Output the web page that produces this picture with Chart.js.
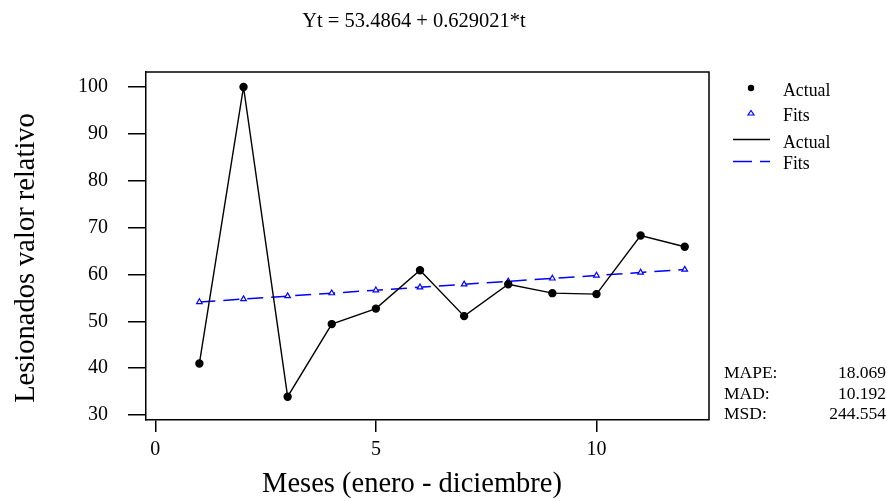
<!DOCTYPE html>
<html>
<head>
<meta charset="utf-8">
<script src="https://cdn.jsdelivr.net/npm/chart.js@4.4.1/dist/chart.umd.min.js"></script>
<style>
  html, body { margin: 0; padding: 0; background: #ffffff; }
  #wrap { width: 887px; height: 501px; position: relative; }
</style>
</head>
<body>
<div id="wrap"><canvas id="c" width="887" height="501"></canvas></div>
<script>
// ---- data ----
const months = [1, 2, 3, 4, 5, 6, 7, 8, 9, 10, 11, 12];
const actualValues = [41.0, 100.0, 33.9, 49.4, 52.7, 60.9, 51.1, 57.9, 56.0, 55.8, 68.3, 65.9];
const fitsValues = [54.12, 54.74, 55.37, 56.00, 56.63, 57.26, 57.89, 58.52, 59.15, 59.78, 60.41, 61.03];
const xTickValues = [0, 5, 10];
const yTickValues = [30, 40, 50, 60, 70, 80, 90, 100];
const equationText = 'Yt = 53.4864 + 0.629021*t';
const legendLabels = ['Actual', 'Fits', 'Actual', 'Fits'];
const statNames = ['MAPE:', 'MAD:', 'MSD:'];
const statValues = ['18.069', '10.192', '244.554'];
const xTitle = 'Meses (enero - diciembre)';
const yTitle = 'Lesionados valor relativo';

const SERIF = '"Liberation Serif", "Times New Roman", serif';
const BLUE = '#0000ff';

const extrasPlugin = {
  id: 'extras',
  afterDraw(chart) {
    const ctx = chart.ctx;
    const a = chart.chartArea;
    ctx.save();
    // frame top & right
    ctx.strokeStyle = '#000';
    ctx.lineWidth = 1.5;
    ctx.setLineDash([]);
    ctx.beginPath();
    ctx.moveTo(a.left, a.top);
    ctx.lineTo(a.right, a.top);
    ctx.lineTo(a.right, a.bottom);
    ctx.stroke();

    ctx.fillStyle = '#000';
    // equation
    ctx.font = '20.5px ' + SERIF;
    ctx.textAlign = 'center';
    ctx.textBaseline = 'middle';
    ctx.fillText(equationText, 414, 22);

    // axis titles
    ctx.font = '28.5px ' + SERIF;
    ctx.fillText(xTitle, 412, 485);
    ctx.save();
    ctx.translate(27, 258);
    ctx.rotate(-Math.PI / 2);
    ctx.fillText(yTitle, 0, 0);
    ctx.restore();

    // legend
    ctx.font = '17.8px ' + SERIF;
    ctx.textAlign = 'left';
    ctx.textBaseline = 'middle';
    const lx = 783;
    const ly = [91, 116, 143, 164];
    ctx.beginPath();
    ctx.arc(751, 88, 3.2, 0, Math.PI * 2);
    ctx.fillStyle = '#000';
    ctx.fill();
    ctx.beginPath();
    ctx.moveTo(751, 110.5);
    ctx.lineTo(754, 115);
    ctx.lineTo(748, 115);
    ctx.closePath();
    ctx.strokeStyle = BLUE;
    ctx.lineWidth = 1.2;
    ctx.stroke();
    ctx.beginPath();
    ctx.moveTo(733, 139.5);
    ctx.lineTo(770, 139.5);
    ctx.strokeStyle = '#000';
    ctx.lineWidth = 1.5;
    ctx.stroke();
    ctx.beginPath();
    ctx.setLineDash([19, 8]);
    ctx.moveTo(733, 161.5);
    ctx.lineTo(770, 161.5);
    ctx.strokeStyle = BLUE;
    ctx.stroke();
    ctx.setLineDash([]);
    ctx.fillStyle = '#000';
    legendLabels.forEach((t, i) => ctx.fillText(t, lx, ly[i]));

    // stats
    ctx.font = '17.5px ' + SERIF;
    const sy = [373, 394, 414];
    statNames.forEach((t, i) => {
      ctx.textAlign = 'left';
      ctx.fillText(t, 724, sy[i]);
      ctx.textAlign = 'right';
      ctx.fillText(statValues[i], 886, sy[i]);
    });
    ctx.restore();
  }
};

new Chart(document.getElementById('c'), {
  type: 'line',
  data: {
    datasets: [
      {
        label: 'Actual',
        data: months.map((m, i) => ({ x: m, y: actualValues[i] })),
        borderColor: '#000',
        backgroundColor: '#000',
        borderWidth: 1.4,
        pointStyle: 'circle',
        pointRadius: 3.5,
        pointBackgroundColor: '#000',
        pointBorderColor: '#000',
        tension: 0
      },
      {
        label: 'Fits',
        data: months.map((m, i) => ({ x: m, y: fitsValues[i] })),
        borderColor: BLUE,
        backgroundColor: '#fff',
        borderWidth: 1.5,
        borderDash: [16, 8],
        pointStyle: 'triangle',
        pointRadius: 3.2,
        pointBorderWidth: 1.2,
        pointBackgroundColor: '#fff',
        pointBorderColor: BLUE,
        tension: 0
      }
    ]
  },
  plugins: [extrasPlugin],
  options: {
    responsive: false,
    animation: false,
    devicePixelRatio: 1,
    layout: { padding: { top: 72, right: 178, left: 0, bottom: 0 } },
    plugins: {
      legend: { display: false },
      title: { display: false },
      tooltip: { enabled: false }
    },
    scales: {
      x: {
        type: 'linear',
        min: -0.21,
        max: 12.55,
        afterBuildTicks: s => { s.ticks = xTickValues.map(v => ({ value: v })); },
        afterFit: s => { s.height = 81; },
        grid: { display: true, drawOnChartArea: false, drawTicks: true, tickLength: 12, color: '#000', lineWidth: 1.5 },
        border: { display: true, color: '#000', width: 1.5 },
        ticks: { color: '#000', font: { family: SERIF, size: 20 }, padding: 6, maxRotation: 0 },
        title: { display: false, text: xTitle }
      },
      y: {
        type: 'linear',
        min: 28.93,
        max: 103.2,
        afterBuildTicks: s => { s.ticks = yTickValues.map(v => ({ value: v })); },
        afterFit: s => { s.width = 146; },
        grid: { display: true, drawOnChartArea: false, drawTicks: true, tickLength: 18, color: '#000', lineWidth: 1.5 },
        border: { display: true, color: '#000', width: 1.5 },
        ticks: { color: '#000', font: { family: SERIF, size: 20 }, padding: 20 },
        title: { display: false, text: yTitle }
      }
    }
  }
});
</script>
</body>
</html>
